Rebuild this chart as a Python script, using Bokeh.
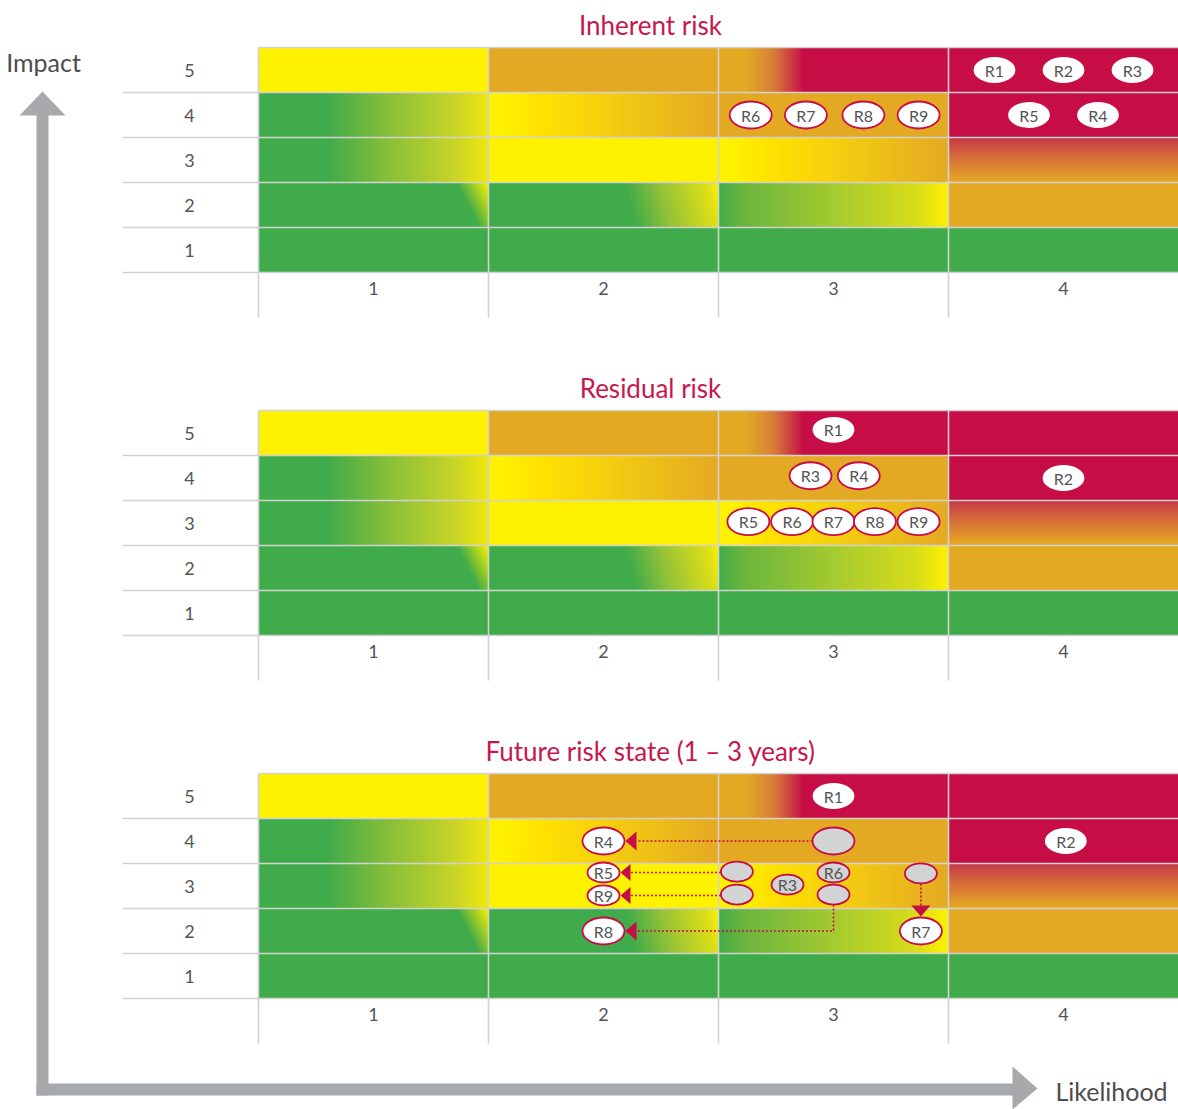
import numpy as np
from bokeh.plotting import figure
from bokeh.models import Range1d
from bokeh.embed import file_html
from bokeh.resources import INLINE
from bokeh.core.properties import value

# ---------------- data ----------------
likelihood_labels = ["1", "2", "3", "4"]
impact_labels = ["1", "2", "3", "4", "5"]
panel_titles = ["Inherent risk", "Residual risk", "Future risk state (1 \u2013 3 years)"]
axis_titles = ["Impact", "Likelihood"]

# heat-map zone of every cell; rows = impact 1..5, columns = likelihood 1..4
zone_impact1 = ["green", "green", "green", "green"]
zone_impact2 = ["green_corner", "green_to_yellow_diag", "green_to_yellow", "orange"]
zone_impact3 = ["green_to_yellow_soft", "yellow", "yellow_to_orange", "crimson_to_orange"]
zone_impact4 = ["green_to_yellow_soft", "yellow_to_orange", "orange", "crimson"]
zone_impact5 = ["yellow", "orange", "orange_to_crimson", "crimson"]

inherent_risk = ["R1", "R2", "R3", "R5", "R4", "R6", "R7", "R8", "R9"]
inherent_likelihood = [3.70, 4.00, 4.30, 3.85, 4.15, 2.64, 2.88, 3.13, 3.37]
inherent_impact = [5, 5, 5, 4, 4, 4, 4, 4, 4]

residual_risk = ["R1", "R3", "R4", "R2", "R5", "R6", "R7", "R8", "R9"]
residual_likelihood = [3.00, 2.90, 3.11, 4.00, 2.63, 2.82, 3.00, 3.18, 3.37]
residual_impact = [5.07, 4.05, 4.05, 4.00, 3.03, 3.03, 3.03, 3.03, 3.03]

future_risk = ["R1", "R2", "R3", "R4", "R5", "R6", "R7", "R8", "R9"]
future_from_likelihood = [3.00, 4.01, 2.80, 3.00, 2.58, 3.00, 3.38, 3.00, 2.58]
future_from_impact = [5.00, 4.00, 3.03, 4.00, 3.32, 3.30, 3.28, 2.81, 2.81]
future_to_likelihood = [3.00, 4.01, 2.80, 2.00, 2.00, 3.00, 3.38, 2.00, 2.00]
future_to_impact = [5.00, 4.00, 3.03, 4.00, 3.30, 3.30, 2.00, 2.00, 2.79]

# ---------------- layout / style ----------------
W, H = 1178, 1109
PX_L = 230.0
PX_I = 45.0
GRID_LEFT_PX = 258
X0 = 0.5 - GRID_LEFT_PX / PX_L
X1 = 4.5
PANEL_TOP_PX = [47, 410, 773]
BASES = [(H - (t + 5 * PX_I)) / PX_I - 0.5 for t in PANEL_TOP_PX]


def xd(px):
    return X0 + px / PX_L


def yd(py):
    return (H - py) / PX_I


def dx(px):
    return px / PX_L


def dy(px):
    return px / PX_I


CRIMSON = "#C60D45"
TITLE_RED = "#C8174D"
TEXT_GREY = "#555555"
GRID = "#D2D2D2"
ARROW_GREY = "#A7A9AC"
ELL_GREY = "#D1D3D4"
FONT = value("Lato")

G = (64, 171, 74)
Y = (255, 242, 0)
O = (228, 169, 35)
C = (198, 13, 69)

ZONES = {
    "green": ("u", 0.0, [(0, G), (1, G)]),
    "yellow": ("u", 0.0, [(0, Y), (1, Y)]),
    "orange": ("u", 0.0, [(0, O), (1, O)]),
    "crimson": ("u", 0.0, [(0, C), (1, C)]),
    "green_corner": ("u", 0.1, [(0, G), (0.96, G), (1.1, Y)]),
    "green_to_yellow_diag": ("u", 0.05, [(0, G), (0.64, G), (0.8, (150, 195, 55)),
                                         (1.0, (225, 225, 20)), (1.05, Y)]),
    "green_to_yellow": ("u", 0.0, [(0, G), (0.1, (105, 180, 62)), (0.5, (165, 203, 48)),
                                   (0.85, (215, 220, 25)), (1.0, Y)]),
    "green_to_yellow_soft": ("u", 0.0, [(0, G), (0.3, G), (0.55, (132, 190, 58)),
                                        (0.85, (200, 212, 40)), (1.0, (240, 232, 10))]),
    "yellow_to_orange": ("u", 0.0, [(0, Y), (0.06, Y), (0.22, (255, 226, 0)),
                                    (0.5, (245, 208, 15)), (1.0, O)]),
    "orange_to_crimson": ("u", 0.0, [(0, O), (0.12, O), (0.24, (215, 125, 58)),
                                     (0.37, C), (1, C)]),
    "crimson_to_orange": ("v", 0.0, [(0, O), (0.12, (228, 158, 40)), (0.6, (213, 105, 60)),
                                     (1, (198, 55, 72))]),
}

zones = [zone_impact1, zone_impact2, zone_impact3, zone_impact4, zone_impact5]


def zone_rgb(zone, U, V):
    kind, k, stops = ZONES[zone]
    s = U + k * V if kind == "u" else V
    pos = [a for a, _ in stops]
    return [np.interp(s, pos, [c[j] for _, c in stops]) for j in range(3)]


def zone_image(zone, w=230, h=45):
    u = (np.arange(w) + 0.5) / w
    v = (np.arange(h) + 0.5) / h
    U, V = np.meshgrid(u, v)
    r, g, b = zone_rgb(zone, U, V)
    img = np.empty((h, w), dtype=np.uint32)
    view = img.view(dtype=np.uint8).reshape((h, w, 4))
    view[..., 0] = np.clip(np.round(r), 0, 255).astype(np.uint8)
    view[..., 1] = np.clip(np.round(g), 0, 255).astype(np.uint8)
    view[..., 2] = np.clip(np.round(b), 0, 255).astype(np.uint8)
    view[..., 3] = 255
    return img


def hexcol(rgb):
    return "#%02x%02x%02x" % tuple(int(round(float(c))) for c in rgb)


def on_crimson(l, i):
    L = int(round(l))
    I = int(round(i))
    zone = zones[I - 1][L - 1]
    r, g, b = zone_rgb(zone, np.array(l - (L - 0.5)), np.array(i - (I - 0.5)))
    return float(r) > 170 and float(g) < 60


IMAGES = {z: zone_image(z) for z in ZONES}

p = figure(width=W, height=H, x_range=Range1d(X0, X1), y_range=Range1d(0, H / PX_I),
           output_backend="svg", toolbar_location=None, min_border=0,
           x_axis_location=None, y_axis_location=None)
p.grid.visible = False
p.outline_line_color = None
p.background_fill_color = "white"
p.border_fill_color = "white"

# ---------------- big axis arrows ----------------
p.quad(left=[xd(36)], right=[xd(48)], bottom=[yd(1095)], top=[yd(114)],
       fill_color=ARROW_GREY, line_color=None)
p.quad(left=[xd(36)], right=[xd(1013)], bottom=[yd(1095)], top=[yd(1083)],
       fill_color=ARROW_GREY, line_color=None)
p.patches(xs=[[xd(19), xd(65), xd(42)], [xd(1012), xd(1012), xd(1037)]],
          ys=[[yd(115), yd(115), yd(91)], [yd(1066), yd(1109), yd(1088)]],
          fill_color=ARROW_GREY, line_color=None)
p.text(x=[xd(43)], y=[yd(61)], text=[axis_titles[0]], text_font=FONT,
       text_font_size=value("25px"), text_color="#4d4d4d",
       text_align="center", text_baseline="middle")
p.text(x=[xd(1111)], y=[yd(1090)], text=[axis_titles[1]], text_font=FONT,
       text_font_size=value("25px"), text_color="#4d4d4d",
       text_align="center", text_baseline="middle")

LARGE = (42, 27)
SMALL = (32, 20)
ONRED = (40, 24)


def draw_cells(base):
    lefts, rights, bottoms, tops, cols = [], [], [], [], []
    imgs, ix, iy = [], [], []
    for ii, row in enumerate(zones):
        imp = ii + 1
        for li, zone in enumerate(row):
            lik = li + 1
            lefts.append(lik - 0.5)
            rights.append(lik + 0.5)
            bottoms.append(base + imp - 0.5)
            tops.append(base + imp + 0.5)
            cols.append(hexcol(zone_rgb(zone, np.array(0.5), np.array(0.5))))
            if zone not in ("green", "yellow", "orange", "crimson"):
                imgs.append(IMAGES[zone])
                ix.append(lik - 0.5)
                iy.append(base + imp - 0.5)
    p.quad(left=lefts, right=rights, bottom=bottoms, top=tops,
           fill_color=cols, line_color=None)
    p.image_rgba(image=imgs, x=ix, y=iy, dw=[1] * len(imgs), dh=[1] * len(imgs))

    # grid lines
    x0s, y0s, x1s, y1s = [], [], [], []
    for k in range(5):
        x0s.append(xd(122)); x1s.append(X1)
        y0s.append(base + k + 0.5); y1s.append(base + k + 0.5)
    x0s.append(0.5); x1s.append(X1)
    y0s.append(base + 5.5); y1s.append(base + 5.5)
    for k in range(4):
        x0s.append(k + 0.5); x1s.append(k + 0.5)
        y0s.append(base + 5.5); y1s.append(base + 0.5 - 1.0)
    p.segment(x0=x0s, y0=y0s, x1=x1s, y1=y1s, line_color=GRID, line_width=1.6)

    # tick labels
    p.text(x=[xd(189)] * 5, y=[base + k + 1 for k in range(5)], text=impact_labels,
           text_font=FONT, text_font_size=value("18px"), text_color=TEXT_GREY,
           text_align="center", text_baseline="middle")
    p.text(x=[k + 1 for k in range(4)], y=[base + 0.5 - dy(16)] * 4, text=likelihood_labels,
           text_font=FONT, text_font_size=value("18px"), text_color=TEXT_GREY,
           text_align="center", text_baseline="middle")


def draw_ellipses(xs, ys, sizes, fills, lines, labels, small_text=False):
    p.ellipse(x=xs, y=ys, width=[s[0] for s in sizes], height=[s[1] for s in sizes],
              width_units="screen", height_units="screen",
              fill_color=fills, line_color=lines, line_width=1.8)
    lx = [x for x, t in zip(xs, labels) if t]
    ly = [y for y, t in zip(ys, labels) if t]
    lt = [t for t in labels if t]
    p.text(x=lx, y=ly, text=lt, text_font=FONT, text_font_size=value("16px"),
           text_color=TEXT_GREY, text_align="center", text_baseline="middle")


def draw_static(base, ids, ls, is_):
    xs, ys, sizes, fills, lines = [], [], [], [], []
    for rid, l, i in zip(ids, ls, is_):
        red = on_crimson(l, i)
        xs.append(l)
        ys.append(base + i)
        sizes.append(ONRED if red else LARGE)
        fills.append("white")
        lines.append("white" if red else CRIMSON)
    draw_ellipses(xs, ys, sizes, fills, lines, list(ids))


for k, base in enumerate(BASES):
    draw_cells(base)
    p.text(x=[xd(650)], y=[base + 5.5 + dy(23)], text=[panel_titles[k]], text_font=FONT,
           text_font_size=value("26px"), text_color=TITLE_RED,
           text_align="center", text_baseline="middle")

draw_static(BASES[0], inherent_risk, inherent_likelihood, inherent_impact)
draw_static(BASES[1], residual_risk, residual_likelihood, residual_impact)

# ---------------- future panel ----------------
base = BASES[2]
line_xs, line_ys, head_xs, head_ys = [], [], [], []
ex, ey, esz, efill, eline, elab = [], [], [], [], [], []


def size_for(l, i):
    if on_crimson(l, i):
        return ONRED
    return SMALL if int(round(i)) == 3 else LARGE


for rid, fl, fi, tl, ti in zip(future_risk, future_from_likelihood, future_from_impact,
                               future_to_likelihood, future_to_impact):
    moved = abs(fl - tl) > 1e-6 or abs(fi - ti) > 1e-6
    tsz = size_for(tl, ti)
    if not moved:
        red = on_crimson(tl, ti)
        ex.append(tl); ey.append(base + ti); esz.append(tsz)
        efill.append("white" if red else ELL_GREY)
        eline.append("white" if red else CRIMSON)
        elab.append(rid)
        continue
    osz = size_for(fl, fi)
    ex.append(fl); ey.append(base + fi); esz.append(osz)
    efill.append(ELL_GREY); eline.append(CRIMSON); elab.append("")
    ex.append(tl); ey.append(base + ti); esz.append(tsz)
    efill.append("white"); eline.append(CRIMSON); elab.append(rid)

    fx, fy, tx, ty = fl, base + fi, tl, base + ti
    large = tsz == LARGE
    depth = 11 if large else 10
    hb = 9.5 if large else 8.5
    if abs(fl - tl) < 0.05:
        tip_y = ty + dy(tsz[1] / 2 + 1)
        base_y = tip_y + dy(depth)
        line_xs.append([fx, fx]); line_ys.append([fy - dy(osz[1] / 2), base_y])
        head_xs.append([tx, tx - dx(hb), tx + dx(hb)])
        head_ys.append([tip_y, base_y, base_y])
    else:
        tip_x = tx + dx(tsz[0] / 2 + 1)
        base_x = tip_x + dx(depth)
        head_xs.append([tip_x, base_x, base_x])
        head_ys.append([ty, ty + dy(hb), ty - dy(hb)])
        if abs(fi - ti) < 0.1:
            line_xs.append([fx - dx(osz[0] / 2), base_x]); line_ys.append([ty, ty])
        else:
            line_xs.append([fx, fx, base_x]); line_ys.append([fy - dy(osz[1] / 2), ty, ty])

p.multi_line(xs=line_xs, ys=line_ys, line_color=CRIMSON, line_width=1.6, line_dash="2 2")
p.patches(xs=head_xs, ys=head_ys, fill_color=CRIMSON, line_color=None)
draw_ellipses(ex, ey, esz, efill, eline, elab)

open("out.html", "w").write(file_html(p, INLINE))
